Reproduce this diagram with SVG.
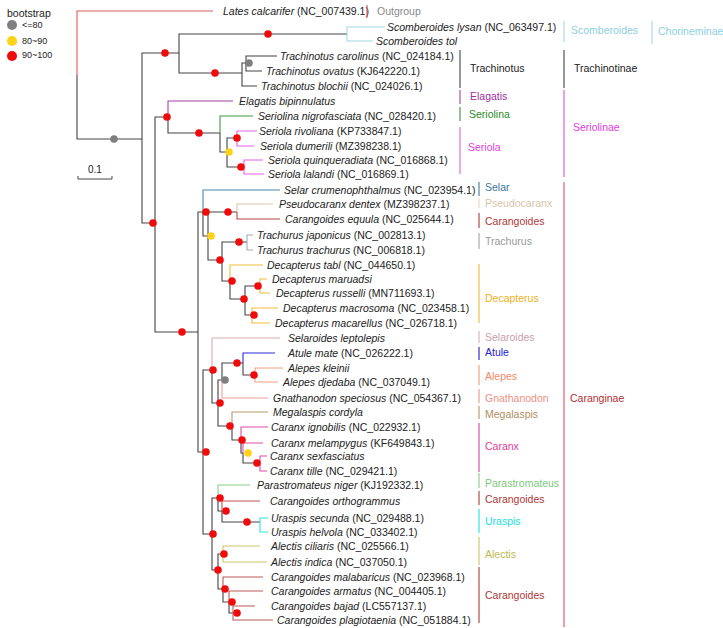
<svg xmlns="http://www.w3.org/2000/svg" width="723" height="628" viewBox="0 0 723 628">
<style>
text{font-family:"Liberation Sans",Arial,sans-serif;font-size:10.5px;fill:#222}
.sp{font-style:italic}
.br{fill:none;stroke:#444;stroke-width:1.1}
.bar{stroke-width:1.2}
.lg{font-size:9px}
.r{fill:#f00a0a}.y{fill:#ffd21a}.g{fill:#7f7f7f}
</style>
<rect width="723" height="628" fill="#fff"/>
<g id="legend">
<text x="7" y="17">bootstrap</text>
<circle class="g" cx="12" cy="25" r="5"/><text class="lg" x="22" y="28">&lt;=80</text>
<circle class="y" cx="12" cy="41" r="5"/><text class="lg" x="22" y="44">80~90</text>
<circle class="r" cx="12" cy="56" r="5"/><text class="lg" x="22" y="58">90~100</text>
</g>
<g id="scale">
<path d="M78,176V179H112V176" fill="none" stroke="#444"/>
<text x="88" y="173" style="font-size:10px">0.1</text>
</g>
<g id="connectors">
<path class="br" d="M77,75V139H142 M142,139V53H179 M179,53V34H347 M179,53V73H242 M242,73V63H246 M142,139V223H155 M155,223V117H168 M168,117V133H220 M220,133V152H227 M227,152V138H237 M227,152V167H244 M155,223V332H198 M198,332V212H203 M203,212V236H208 M208,236V212H237 M208,236V260H222 M222,260V242H247 M222,260V281H230 M230,281V299H245 M245,299V286H260 M245,299V315H252 M198,332V452H203 M203,452V370H212 M212,370V403H218 M218,403V380H222 M222,380V363H243 M243,363V375H255 M218,403V426H232 M232,426V440H241 M241,440V453H243 M243,453V463H260 M203,452V534H212 M212,534V498H218 M218,498V511H222 M222,511V522H260 M212,534V570H218 M218,570V554H223 M218,570V589H223 M223,589V602H229 M229,602V613H233"/>
<path class="br" style="stroke:#e05a5a" d="M77,75V11H213"/>
<path class="br" style="stroke:#9fd8e6" d="M347,34V27H385 M347,34V41H373"/>
<path class="br" d="M246,63V56H277 M246,63V71H262 M242,73V86H257"/>
<path class="br" style="stroke:#a640a6" d="M168,117V101H233"/>
<path class="br" style="stroke:#3f9a3f" d="M220,133V116H253"/>
<path class="br" style="stroke:#e860e8" d="M237,138V131H257 M237,138V146H254 M244,167V160H263 M244,167V174H264"/>
<path class="br" style="stroke:#4a86ae" d="M203,212V190H280"/>
<path class="br" style="stroke:#dcc6a8" d="M237,212V204H273"/>
<path class="br" style="stroke:#b84444" d="M237,212V219H280"/>
<path class="br" style="stroke:#a8a8a8" d="M247,242V235H253 M247,242V250H253"/>
<path class="br" style="stroke:#f2be3a" d="M230,281V265H263 M260,286V279H267 M260,286V293H270 M252,315V308H278 M252,315V323H270"/>
<path class="br" style="stroke:#d8aeb2" d="M212,370V338H280"/>
<path class="br" style="stroke:#2a2ad8" d="M243,363V353H275"/>
<path class="br" style="stroke:#f2a080" d="M255,375V368H283 M255,375V382H278"/>
<path class="br" style="stroke:#f0a096" d="M222,380V398H268"/>
<path class="br" style="stroke:#b89a6c" d="M232,426V412H268"/>
<path class="br" style="stroke:#e24aa8" d="M241,440V427H268 M243,453V443H263 M260,463V456H267 M260,463V471H267"/>
<path class="br" style="stroke:#8ccc8c" d="M218,498V485H250"/>
<path class="br" style="stroke:#c05050" d="M222,511V501H260"/>
<path class="br" style="stroke:#28e4e4" d="M260,522V518H268 M260,522V532H268"/>
<path class="br" style="stroke:#cfc46a" d="M223,554V546H260 M223,554V562H267"/>
<path class="br" style="stroke:#c05a5a" d="M223,589V577H263 M229,602V591H263 M233,613V606H255 M233,613V620H273"/>
</g>
<g id="bootstrap">
<circle class="g" cx="114" cy="139" r="3.8"/><circle class="g" cx="249" cy="63" r="3.8"/><circle class="g" cx="225" cy="380" r="3.8"/>
<circle class="y" cx="229" cy="152" r="3.8"/><circle class="y" cx="211" cy="236" r="3.8"/><circle class="y" cx="248" cy="453" r="3.8"/>
<circle class="r" cx="165" cy="53" r="3.8"/><circle class="r" cx="268" cy="34" r="3.8"/><circle class="r" cx="215" cy="73" r="3.8"/>
<circle class="r" cx="153" cy="223" r="3.8"/><circle class="r" cx="167" cy="117" r="3.8"/><circle class="r" cx="199" cy="133" r="3.8"/>
<circle class="r" cx="237" cy="138" r="3.8"/><circle class="r" cx="241" cy="167" r="3.8"/><circle class="r" cx="182" cy="332" r="3.8"/>
<circle class="r" cx="206" cy="212" r="3.8"/><circle class="r" cx="228" cy="212" r="3.8"/><circle class="r" cx="220" cy="260" r="3.8"/>
<circle class="r" cx="239" cy="242" r="3.8"/><circle class="r" cx="232" cy="281" r="3.8"/><circle class="r" cx="244" cy="299" r="3.8"/>
<circle class="r" cx="258" cy="286" r="3.8"/><circle class="r" cx="254" cy="315" r="3.8"/><circle class="r" cx="206" cy="452" r="3.8"/>
<circle class="r" cx="213" cy="370" r="3.8"/><circle class="r" cx="220" cy="403" r="3.8"/><circle class="r" cx="237" cy="363" r="3.8"/>
<circle class="r" cx="254" cy="375" r="3.8"/><circle class="r" cx="230" cy="426" r="3.8"/><circle class="r" cx="242" cy="440" r="3.8"/>
<circle class="r" cx="257" cy="463" r="3.8"/><circle class="r" cx="213" cy="534" r="3.8"/><circle class="r" cx="220" cy="498" r="3.8"/>
<circle class="r" cx="226" cy="511" r="3.8"/><circle class="r" cx="247" cy="522" r="3.8"/><circle class="r" cx="218" cy="570" r="3.8"/>
<circle class="r" cx="224" cy="554" r="3.8"/><circle class="r" cx="225" cy="589" r="3.8"/><circle class="r" cx="232" cy="602" r="3.8"/>
<circle class="r" cx="237" cy="613" r="3.8"/>
</g>
<g id="tips">
<g id="t1"><text x="223" y="15"><tspan class="sp">Lates calcarifer</tspan> (NC_007439.1)</text></g>
<g id="t2"><text x="387" y="31"><tspan class="sp">Scomberoides lysan</tspan> (NC_063497.1)</text></g>
<g id="t3"><text x="376" y="45" class="sp">Scomberoides tol</text></g>
<g id="t4"><text x="280" y="60"><tspan class="sp">Trachinotus carolinus</tspan> (NC_024184.1)</text></g>
<g id="t5"><text x="266" y="75"><tspan class="sp">Trachinotus ovatus</tspan> (KJ642220.1)</text></g>
<g id="t6"><text x="261" y="90"><tspan class="sp">Trachinotus blochii</tspan> (NC_024026.1)</text></g>
<g id="t7"><text x="239" y="105" class="sp">Elagatis bipinnulatus</text></g>
<g id="t8"><text x="258" y="120"><tspan class="sp">Seriolina nigrofasciata</tspan> (NC_028420.1)</text></g>
<g id="t9"><text x="259" y="135"><tspan class="sp">Seriola rivoliana</tspan> (KP733847.1)</text></g>
<g id="t10"><text x="260" y="150"><tspan class="sp">Seriola dumerili</tspan> (MZ398238.1)</text></g>
<g id="t11"><text x="268" y="164"><tspan class="sp">Seriola quinqueradiata</tspan> (NC_016868.1)</text></g>
<g id="t12"><text x="268" y="178"><tspan class="sp">Seriola lalandi</tspan> (NC_016869.1)</text></g>
<g id="t13"><text x="284" y="194"><tspan class="sp">Selar crumenophthalmus</tspan> (NC_023954.1)</text></g>
<g id="t14"><text x="279" y="208"><tspan class="sp">Pseudocaranx dentex</tspan> (MZ398237.1)</text></g>
<g id="t15"><text x="285" y="223"><tspan class="sp">Carangoides equula</tspan> (NC_025644.1)</text></g>
<g id="t16"><text x="257" y="239"><tspan class="sp">Trachurus japonicus</tspan> (NC_002813.1)</text></g>
<g id="t17"><text x="257" y="254"><tspan class="sp">Trachurus trachurus</tspan> (NC_006818.1)</text></g>
<g id="t18"><text x="267" y="269"><tspan class="sp">Decapterus tabl</tspan> (NC_044650.1)</text></g>
<g id="t19"><text x="272" y="283" class="sp">Decapterus maruadsi</text></g>
<g id="t20"><text x="276" y="297"><tspan class="sp">Decapterus russelli</tspan> (MN711693.1)</text></g>
<g id="t21"><text x="283" y="312"><tspan class="sp">Decapterus macrosoma</tspan> (NC_023458.1)</text></g>
<g id="t22"><text x="275" y="327"><tspan class="sp">Decapterus macarellus</tspan> (NC_026718.1)</text></g>
<g id="t23"><text x="288" y="342" class="sp">Selaroides leptolepis</text></g>
<g id="t24"><text x="288" y="357"><tspan class="sp">Atule mate</tspan> (NC_026222.1)</text></g>
<g id="t25"><text x="288" y="372" class="sp">Alepes kleinii</text></g>
<g id="t26"><text x="283" y="386"><tspan class="sp">Alepes djedaba</tspan> (NC_037049.1)</text></g>
<g id="t27"><text x="273" y="402"><tspan class="sp">Gnathanodon speciosus</tspan> (NC_054367.1)</text></g>
<g id="t28"><text x="273" y="416" class="sp">Megalaspis cordyla</text></g>
<g id="t29"><text x="271" y="431"><tspan class="sp">Caranx ignobilis</tspan> (NC_022932.1)</text></g>
<g id="t30"><text x="271" y="447"><tspan class="sp">Caranx melampygus</tspan> (KF649843.1)</text></g>
<g id="t31"><text x="270" y="460" class="sp">Caranx sexfasciatus</text></g>
<g id="t32"><text x="270" y="475"><tspan class="sp">Caranx tille</tspan> (NC_029421.1)</text></g>
<g id="t33"><text x="257" y="489"><tspan class="sp">Parastromateus niger</tspan> (KJ192332.1)</text></g>
<g id="t34"><text x="270" y="505" class="sp">Carangoides orthogrammus</text></g>
<g id="t35"><text x="271" y="522"><tspan class="sp">Uraspis secunda</tspan> (NC_029488.1)</text></g>
<g id="t36"><text x="271" y="536"><tspan class="sp">Uraspis helvola</tspan> (NC_033402.1)</text></g>
<g id="t37"><text x="271" y="550"><tspan class="sp">Alectis ciliaris</tspan> (NC_025566.1)</text></g>
<g id="t38"><text x="271" y="566"><tspan class="sp">Alectis indica</tspan> (NC_037050.1)</text></g>
<g id="t39"><text x="271" y="581"><tspan class="sp">Carangoides malabaricus</tspan> (NC_023968.1)</text></g>
<g id="t40"><text x="271" y="595"><tspan class="sp">Carangoides armatus</tspan> (NC_004405.1)</text></g>
<g id="t41"><text x="271" y="610"><tspan class="sp">Carangoides bajad</tspan> (LC557137.1)</text></g>
<g id="t42"><text x="277" y="624"><tspan class="sp">Carangoides plagiotaenia</tspan> (NC_051884.1)</text></g>
</g>
<g id="clades">
<g id="c-outgroup"><path class="bar" stroke="#d96060" d="M367,5V18"/><text x="377" y="15" style="fill:#8a8a8a">Outgroup</text></g>
<g id="c-scomberoides"><path class="bar" stroke="#a8dce8" d="M564,21V42"/><text x="571" y="34" style="fill:#8ccfe0">Scomberoides</text></g>
<g id="c-chorineminae"><path class="bar" stroke="#a8dce8" d="M652,21V44"/><text x="658" y="35" style="fill:#8ccfe0">Chorineminae</text></g>
<g id="c-trachinotus"><path class="bar" stroke="#555" d="M460,50V88"/><text x="470" y="72">Trachinotus</text></g>
<g id="c-trachinotinae"><path class="bar" stroke="#555" d="M564,50V88"/><text x="574" y="72">Trachinotinae</text></g>
<g id="c-elagatis"><path class="bar" stroke="#b050b0" d="M460,90V104"/><text x="470" y="100" style="fill:#a0309a">Elagatis</text></g>
<g id="c-seriolina"><path class="bar" stroke="#4a9a4a" d="M460,107V121"/><text x="469" y="118" style="fill:#2a8a2a">Seriolina</text></g>
<g id="c-seriola"><path class="bar" stroke="#e070e0" d="M460,127V174"/><text x="468" y="151" style="fill:#e040e0">Seriola</text></g>
<g id="c-seriolinae"><path class="bar" stroke="#e060e0" d="M564,90V177"/><text x="573" y="131" style="fill:#e040e0">Seriolinae</text></g>
<g id="c-selar"><path class="bar" stroke="#4a86a8" d="M479,182V196"/><text x="485" y="191" style="fill:#3a78a0">Selar</text></g>
<g id="c-pseudocaranx"><path class="bar" stroke="#e6d8c4" d="M479,198V208"/><text x="485" y="207" style="fill:#d8c4a8">Pseudocaranx</text></g>
<g id="c-carangoides1"><path class="bar" stroke="#b84848" d="M479,213V228"/><text x="485" y="225" style="fill:#b03838">Carangoides</text></g>
<g id="c-trachurus"><path class="bar" stroke="#aaa" d="M479,233V249"/><text x="485" y="245" style="fill:#999">Trachurus</text></g>
<g id="c-decapterus"><path class="bar" stroke="#f0c040" d="M479,264V323"/><text x="485" y="302" style="fill:#f0b020">Decapterus</text></g>
<g id="c-selaroides"><path class="bar" stroke="#d6b6bc" d="M479,331V343"/><text x="485" y="341" style="fill:#c8a0a8">Selaroides</text></g>
<g id="c-atule"><path class="bar" stroke="#3030d0" d="M479,347V360"/><text x="485" y="356" style="fill:#2020d0">Atule</text></g>
<g id="c-alepes"><path class="bar" stroke="#f4a080" d="M479,365V385"/><text x="485" y="380" style="fill:#f08a6a">Alepes</text></g>
<g id="c-gnathanodon"><path class="bar" stroke="#f09a90" d="M479,389V403"/><text x="485" y="402" style="fill:#ef8f85">Gnathanodon</text></g>
<g id="c-megalaspis"><path class="bar" stroke="#b89a70" d="M479,406V419"/><text x="485" y="418" style="fill:#b09060">Megalaspis</text></g>
<g id="c-caranx"><path class="bar" stroke="#e050b0" d="M479,423V472"/><text x="485" y="450" style="fill:#e03c9c">Caranx</text></g>
<g id="c-parastromateus"><path class="bar" stroke="#90d090" d="M479,473V488"/><text x="485" y="487" style="fill:#80c880">Parastromateus</text></g>
<g id="c-carangoides2"><path class="bar" stroke="#b84848" d="M479,491V505"/><text x="485" y="503" style="fill:#b03838">Carangoides</text></g>
<g id="c-uraspis"><path class="bar" stroke="#30e8e8" d="M479,509V533"/><text x="485" y="525" style="fill:#20e0e0">Uraspis</text></g>
<g id="c-alectis"><path class="bar" stroke="#d0c870" d="M479,537V565"/><text x="485" y="558" style="fill:#c0b850">Alectis</text></g>
<g id="c-carangoides3"><path class="bar" stroke="#b84848" d="M479,567V623"/><text x="485" y="599" style="fill:#b03838">Carangoides</text></g>
<g id="c-caranginae"><path class="bar" stroke="#e06070" d="M564,182V627"/><text x="570" y="402" style="fill:#b03030">Caranginae</text></g>
</g>
</svg>
